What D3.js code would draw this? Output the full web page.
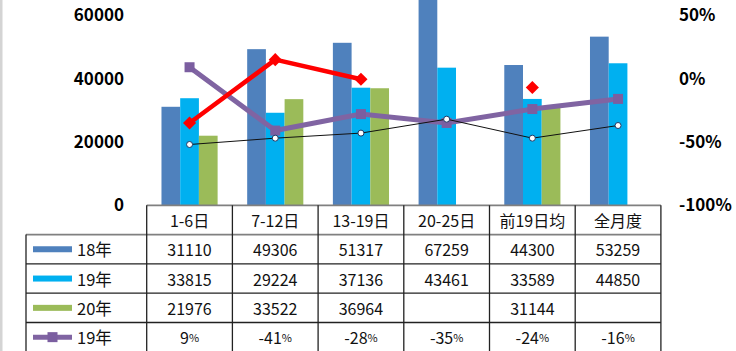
<!DOCTYPE html>
<html>
<head>
<meta charset="utf-8">
<script src="https://cdn.jsdelivr.net/npm/d3@7"></script>
<style>
  html, body { margin: 0; padding: 0; background: #fff; }
  svg { display: block; font-family: "Noto Sans CJK SC", "Noto Sans", sans-serif; }
</style>
</head>
<body>
<div id="chart"></div>
<script>
// periods shown along the table header
const periods = ['1-6日', '7-12日', '13-19日', '20-25日', '前19日均', '全月度'];

// bar series (units)
const sales18 = [31110, 49306, 51317, 67259, 44300, 53259];
const sales19 = [33815, 29224, 37136, 43461, 33589, 44850];
const sales20 = [21976, 33522, 36964, null, 31144, null];

// line series (%)
const growth19 = [9, -41, -28, -35, -24, -16];          // purple, in table
const growth20 = [-35, 15, -0.5, null, -7, null];       // red diamonds
const blackLine = [-52, -47, -43, -32, -47, -37];       // thin black, white dots

const leftTicks = [0, 20000, 40000, 60000];
const rightTicks = [-100, -50, 0, 50];

const barSeries = [
  { key: '18', label: '18年', values: sales18, color: '#4F81BD' },
  { key: '19', label: '19年', values: sales19, color: '#00B0F0' },
  { key: '20', label: '20年', values: sales20, color: '#9BBB59' }
];

const W = 736, H = 351;
const plot = { left: 146.7, right: 660.9, top: 15.3, bottom: 205.3 };
const legendLeft = 26;
const rowH = 29.3;

const svg = d3.select('#chart').append('svg')
  .attr('width', W)
  .attr('height', H);

svg.append('rect').attr('width', W).attr('height', H).attr('fill', '#fff');
svg.append('rect').attr('x', 0).attr('y', 0).attr('width', 2.5).attr('height', H).attr('fill', '#d4d4d4');

const x = d3.scaleBand()
  .domain(periods)
  .range([plot.left, plot.right])
  .padding(0);

const xSub = d3.scaleBand()
  .domain(barSeries.map(s => s.key))
  .range([0, x.bandwidth()])
  .paddingInner(0)
  .paddingOuter(0.79);

const yLeft = d3.scaleLinear().domain([0, 60000]).range([plot.bottom, plot.top]);
const yRight = d3.scaleLinear().domain([-100, 50]).range([plot.bottom, plot.top]);

// bars
barSeries.forEach(s => {
  svg.append('g')
    .selectAll('rect')
    .data(periods.map((p, i) => ({ p, v: s.values[i] })).filter(d => d.v != null))
    .join('rect')
    .attr('x', d => x(d.p) + xSub(s.key))
    .attr('width', xSub.bandwidth())
    .attr('y', d => yLeft(d.v))
    .attr('height', d => yLeft(0) - yLeft(d.v))
    .attr('fill', s.color);
});

// axis labels
svg.append('g')
  .selectAll('text')
  .data(leftTicks)
  .join('text')
  .attr('x', 124)
  .attr('y', d => yLeft(d))
  .attr('dy', '0.35em')
  .attr('text-anchor', 'end')
  .attr('font-size', 17)
  .attr('font-weight', 'bold')
  .attr('fill', '#000')
  .text(d => d);

svg.append('g')
  .selectAll('text')
  .data(rightTicks)
  .join('text')
  .attr('x', 679)
  .attr('y', d => yRight(d))
  .attr('dy', '0.35em')
  .attr('font-size', 17)
  .attr('font-weight', 'bold')
  .attr('fill', '#000')
  .text(d => d + '%');

const cx = p => x(p) + x.bandwidth() / 2;

// purple line
const linePurple = d3.line()
  .x((d, i) => cx(periods[i]))
  .y(d => yRight(d));

svg.append('path')
  .datum(growth19)
  .attr('d', linePurple)
  .attr('fill', 'none')
  .attr('stroke', '#8064A2')
  .attr('stroke-width', 5);

svg.append('g')
  .selectAll('rect')
  .data(growth19)
  .join('rect')
  .attr('x', (d, i) => cx(periods[i]) - 5)
  .attr('y', d => yRight(d) - 5)
  .attr('width', 10)
  .attr('height', 10)
  .attr('fill', '#7B5EA0');

// black thin line
svg.append('path')
  .datum(blackLine)
  .attr('d', linePurple)
  .attr('fill', 'none')
  .attr('stroke', '#111')
  .attr('stroke-width', 1);

svg.append('g')
  .selectAll('circle')
  .data(blackLine)
  .join('circle')
  .attr('cx', (d, i) => cx(periods[i]))
  .attr('cy', d => yRight(d))
  .attr('r', 3)
  .attr('fill', '#fff')
  .attr('stroke', '#1F3864')
  .attr('stroke-width', 1);

// red line (gaps where no data)
const lineRed = d3.line()
  .defined(d => d != null)
  .x((d, i) => cx(periods[i]))
  .y(d => yRight(d));

svg.append('path')
  .datum(growth20)
  .attr('d', lineRed)
  .attr('fill', 'none')
  .attr('stroke', '#FF0000')
  .attr('stroke-width', 4.5);

svg.append('g')
  .selectAll('path')
  .data(growth20.map((v, i) => ({ v, p: periods[i] })).filter(d => d.v != null))
  .join('path')
  .attr('d', d3.symbol().type(d3.symbolDiamond2).size(110))
  .attr('transform', d => `translate(${cx(d.p)},${yRight(d.v)})`)
  .attr('fill', '#FF0000');

// data table
const table = svg.append('g');
const tableTop = plot.bottom;
const nRows = 5;

const textStyle = sel => sel
  .attr('font-size', 16)
  .attr('fill', '#111')
  .attr('dominant-baseline', 'central');

// header text
table.selectAll('.hdr')
  .data(periods)
  .join('text')
  .attr('class', 'hdr')
  .attr('x', d => cx(d))
  .attr('y', tableTop + rowH / 2)
  .attr('text-anchor', 'middle')
  .call(textStyle)
  .text(d => d);

// value rows
barSeries.forEach((s, r) => {
  const ry = tableTop + rowH * (r + 1) + rowH / 2;
  table.append('g')
    .selectAll('text')
    .data(periods.map((p, i) => ({ p, v: s.values[i] })).filter(d => d.v != null))
    .join('text')
    .attr('x', d => cx(d.p))
    .attr('y', ry)
    .attr('text-anchor', 'middle')
    .call(textStyle)
    .text(d => d.v);

  table.append('rect')
    .attr('x', 33)
    .attr('y', ry - 3)
    .attr('width', 39)
    .attr('height', 6)
    .attr('fill', s.color);

  table.append('text')
    .attr('x', 77)
    .attr('y', ry)
    .call(textStyle)
    .attr('font-size', 16.5)
    .text(s.label);
});

// percent row
const pctY = tableTop + rowH * 4 + rowH / 2;
const pctText = table.append('g')
  .selectAll('text')
  .data(growth19)
  .join('text')
  .attr('x', (d, i) => cx(periods[i]))
  .attr('y', pctY)
  .attr('text-anchor', 'middle')
  .call(textStyle);
pctText.append('tspan').text(d => d);
pctText.append('tspan').attr('font-size', 11).text('%');

table.append('line')
  .attr('x1', 33).attr('x2', 72)
  .attr('y1', pctY).attr('y2', pctY)
  .attr('stroke', '#8064A2')
  .attr('stroke-width', 5);
table.append('rect')
  .attr('x', 52.5 - 5).attr('y', pctY - 5)
  .attr('width', 10).attr('height', 10)
  .attr('fill', '#7B5EA0');
table.append('text')
  .attr('x', 77)
  .attr('y', pctY)
  .call(textStyle)
  .attr('font-size', 16.5)
  .text('19年');

// grid lines
const gridColor = '#222';
for (let r = 0; r <= nRows; r++) {
  const yy = tableTop + rowH * r;
  table.append('line')
    .attr('x1', r === 0 ? plot.left : legendLeft)
    .attr('x2', plot.right)
    .attr('y1', yy).attr('y2', yy)
    .attr('stroke', r <= 1 ? '#808080' : gridColor)
    .attr('stroke-width', r <= 1 ? 1.8 : 1.3);
}
periods.concat([null]).forEach((p, i) => {
  const xx = plot.left + x.bandwidth() * i;
  table.append('line')
    .attr('x1', xx).attr('x2', xx)
    .attr('y1', tableTop).attr('y2', H)
    .attr('stroke', gridColor)
    .attr('stroke-width', 1.3);
});
table.append('line')
  .attr('x1', legendLeft).attr('x2', legendLeft)
  .attr('y1', tableTop + rowH).attr('y2', H)
  .attr('stroke', gridColor)
  .attr('stroke-width', 1.3);
</script>
</body>
</html>
